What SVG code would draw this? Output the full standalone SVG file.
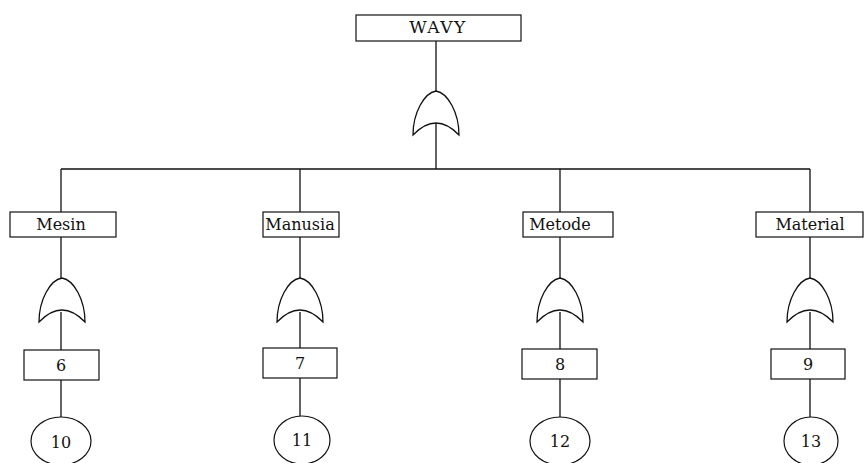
<svg xmlns="http://www.w3.org/2000/svg" width="864" height="463" viewBox="0 0 864 463">
<style>
.ln{stroke:#111;stroke-width:1.3;fill:none}
.bx{stroke:#111;stroke-width:1.2;fill:#fff}
.gt{stroke:#111;stroke-width:1.3;fill:#fff}
.t{font-family:"DejaVu Serif","Liberation Serif",serif;font-size:16px;fill:#111;text-anchor:middle}
.n{font-family:"DejaVu Serif","Liberation Serif",serif;font-size:16px;fill:#111;text-anchor:middle}
</style>
<defs>
<path id="g" d="M-23,44 C-23,22 -12,2 0,0 C12,2 23,22 23,44 Q0,20 -23,44 Z"/>
</defs>
<rect width="864" height="463" fill="#fff"/>
<g id="connectors">
<path class="ln" d="M436,41V91 M436,123V169 M61,169H810"/>
<path class="ln" d="M61,169V212 M61,237V278 M61,312V350 M61,380V417"/>
<path class="ln" d="M300,169V212 M300,237V278 M300,312V348 M300,378V416"/>
<path class="ln" d="M560,169V212 M560,237V278 M560,312V349 M560,379V417"/>
<path class="ln" d="M810,169V212 M810,237V278 M810,312V349 M810,379V417"/>
</g>
<g id="top">
<rect class="bx" x="356" y="15" width="165" height="26"/>
<text class="t" x="438" y="33" style="font-size:17px;letter-spacing:1.5px">WAVY</text>
</g>
<g id="gate-top"><use href="#g" class="gt" x="436" y="91"/></g>
<g id="mesin">
<rect class="bx" x="10" y="212" width="106" height="25"/>
<text class="t" x="61" y="229.5">Mesin</text>
</g>
<g id="manusia">
<rect class="bx" x="263" y="212" width="76" height="25"/>
<text class="t" x="300" y="229.5">Manusia</text>
</g>
<g id="metode">
<rect class="bx" x="523" y="212" width="90" height="25"/>
<text class="t" x="560" y="229.5">Metode</text>
</g>
<g id="material">
<rect class="bx" x="756" y="212" width="107" height="25"/>
<text class="t" x="810" y="229.5">Material</text>
</g>
<g id="gate-mesin"><use href="#g" class="gt" x="62" y="278"/></g>
<g id="gate-manusia"><use href="#g" class="gt" x="300" y="278"/></g>
<g id="gate-metode"><use href="#g" class="gt" x="560" y="278"/></g>
<g id="gate-material"><use href="#g" class="gt" x="810" y="278"/></g>
<g id="box6"><rect class="bx" x="24" y="350" width="75" height="30"/><text class="n" x="61" y="370.5">6</text></g>
<g id="box7"><rect class="bx" x="263" y="348" width="74" height="30"/><text class="n" x="300" y="368.5">7</text></g>
<g id="box8"><rect class="bx" x="522" y="349" width="75" height="30"/><text class="n" x="560" y="369.5">8</text></g>
<g id="box9"><rect class="bx" x="771" y="349" width="74" height="30"/><text class="n" x="808" y="369.5">9</text></g>
<g id="e10"><ellipse class="bx" cx="61" cy="441" rx="30" ry="24"/><text class="n" x="61" y="448">10</text></g>
<g id="e11"><ellipse class="bx" cx="302" cy="440" rx="28" ry="24"/><text class="n" x="302" y="446">11</text></g>
<g id="e12"><ellipse class="bx" cx="560" cy="441" rx="30" ry="24"/><text class="n" x="560" y="447">12</text></g>
<g id="e13"><ellipse class="bx" cx="811" cy="441" rx="27" ry="24"/><text class="n" x="811" y="447">13</text></g>
</svg>
